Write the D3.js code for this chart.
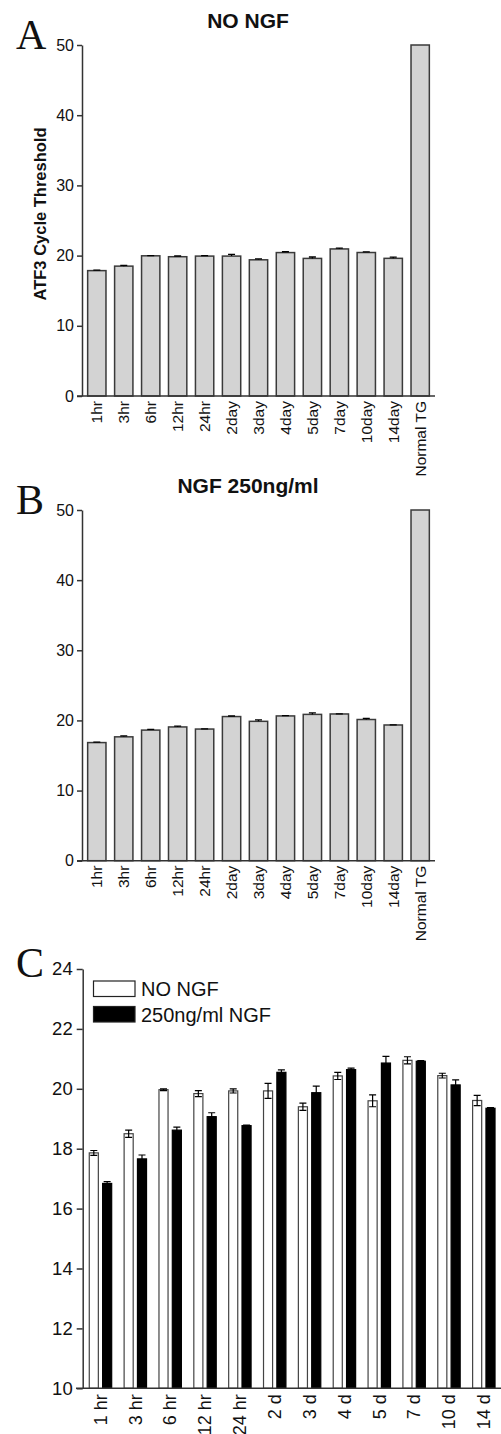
<!doctype html>
<html lang="en">
<head>
<meta charset="utf-8">
<script src="https://d3js.org/d3.v7.min.js"></script>
<style>
body { margin: 0; background: #fff; font-family: "Liberation Sans", Arial, sans-serif; }
.axis path, .axis line { fill: none; stroke: #333; stroke-width: 1.5; }
.axis text { fill: #111; }
.letter { font-family: "Liberation Serif", "Times New Roman", serif; font-size: 42px; fill: #111; }
.title { font-weight: bold; font-size: 21px; text-anchor: middle; fill: #111; }
</style>
</head>
<body>
<script>
var times = ["1hr", "3hr", "6hr", "12hr", "24hr", "2day", "3day", "4day", "5day", "7day", "10day", "14day"];
var timesC = ["1 hr", "3 hr", "6 hr", "12 hr", "24 hr", "2 d", "3 d", "4 d", "5 d", "7 d", "10 d", "14 d"];
var normalLabel = "Normal TG";
var normalTG = 50;

var noNgf    = [17.86, 18.50, 19.97, 19.84, 19.93, 19.93, 19.40, 20.43, 19.60, 20.95, 20.44, 19.61];
var noNgfErr = [0.08, 0.12, 0.03, 0.10, 0.07, 0.25, 0.12, 0.12, 0.20, 0.12, 0.08, 0.17];
var ngf      = [16.84, 17.66, 18.62, 19.07, 18.77, 20.55, 19.87, 20.64, 20.86, 20.92, 20.13, 19.35];
var ngfErr   = [0.06, 0.13, 0.10, 0.13, 0.02, 0.08, 0.22, 0.05, 0.22, 0.02, 0.17, 0.02];

var ticksAB = [0, 10, 20, 30, 40, 50];
var ticksC = [10, 12, 14, 16, 18, 20, 22, 24];

var svg = d3.select("body").append("svg")
    .attr("width", 501)
    .attr("height", 1434);

// panels A and B share the same layout
function singlePanel(top, bottom, title, letter, values, errs, showYTitle) {
  var data = values.map(function(v, i) { return {label: times[i], value: v, err: errs[i]}; });
  data.push({label: normalLabel, value: normalTG, err: 0});

  var x = d3.scaleBand().domain(data.map(function(d) { return d.label; }))
      .range([82, 435]).paddingInner(0.32).paddingOuter(0.21);
  var y = d3.scaleLinear().domain([0, 50]).range([bottom, top]);

  var g = svg.append("g");

  g.selectAll(".bar").data(data).enter().append("rect")
      .attr("x", function(d) { return x(d.label); })
      .attr("y", function(d) { return y(d.value); })
      .attr("width", x.bandwidth())
      .attr("height", function(d) { return y(0) - y(d.value); })
      .style("fill", "#d3d3d3")
      .style("stroke", "#3a3a3a")
      .style("stroke-width", 1.5);

  var eb = data.filter(function(d) { return d.err > 0; });
  g.selectAll(".err").data(eb).enter().append("path")
      .attr("d", function(d) {
        var cx = x(d.label) + x.bandwidth() / 2;
        var y1 = y(d.value + d.err);
        return "M" + cx + "," + y(d.value) + "V" + y1 + "M" + (cx - 3.5) + "," + y1 + "H" + (cx + 3.5);
      })
      .style("stroke", "#000").style("stroke-width", 1.3).style("fill", "none");

  g.append("g").attr("class", "axis")
      .attr("transform", "translate(82,0)")
      .call(d3.axisLeft(y).tickValues(ticksAB).tickSize(5).tickPadding(3).tickSizeOuter(0))
      .selectAll("text").style("font-size", "16px");

  g.append("line").attr("class", "axis")
      .attr("x1", 77).attr("x2", 435).attr("y1", y(0)).attr("y2", y(0))
      .style("stroke", "#333").style("stroke-width", 1.5);

  g.selectAll(".xl").data(data).enter().append("text")
      .attr("transform", function(d) {
        return "translate(" + (x(d.label) + x.bandwidth() / 2) + "," + (y(0) + 5) + ") rotate(-90)";
      })
      .attr("dy", "0.35em")
      .style("text-anchor", "end")
      .style("font-size", "15.5px")
      .style("fill", "#111")
      .text(function(d) { return d.label; });

  g.append("text").attr("class", "title").attr("x", 248).attr("y", top - 17).text(title);
  g.append("text").attr("class", "letter").attr("x", 16).attr("y", top + 4).text(letter);

  if (showYTitle) {
    g.append("text")
        .attr("transform", "translate(40,214) rotate(-90)")
        .attr("dy", "0.35em")
        .style("text-anchor", "middle")
        .style("font-weight", "bold")
        .style("font-size", "16.5px")
        .style("fill", "#111")
        .text("ATF3 Cycle Threshold");
  }
}

singlePanel(45, 396, "NO NGF", "A", noNgf, noNgfErr, true);
singlePanel(510, 860.7, "NGF 250ng/ml", "B", ngf, ngfErr, false);

// panel C: grouped comparison
var series = [
  {key: "no", name: "NO NGF", values: noNgf, errs: noNgfErr, fill: "#fff"},
  {key: "ngf", name: "250ng/ml NGF", values: ngf, errs: ngfErr, fill: "#000"}
];

var x0 = d3.scaleBand().domain(timesC).range([83, 501.3]).paddingInner(0.357).paddingOuter(0.18);
var x1 = d3.scaleBand().domain(series.map(function(s) { return s.key; }))
    .range([0, x0.bandwidth()]).paddingInner(0.32);
var yC = d3.scaleLinear().domain([10, 24]).range([1388.3, 969]);

var gc = svg.append("g");

series.forEach(function(s) {
  var rows = s.values.map(function(v, i) { return {t: timesC[i], v: v, e: s.errs[i]}; });
  gc.selectAll(".b" + s.key).data(rows).enter().append("rect")
      .attr("x", function(d) { return x0(d.t) + x1(s.key); })
      .attr("y", function(d) { return yC(d.v); })
      .attr("width", x1.bandwidth())
      .attr("height", function(d) { return yC(10) - yC(d.v); })
      .style("fill", s.fill)
      .style("stroke", s.key == "no" ? "#444" : "#000")
      .style("stroke-width", 1.2);

  gc.selectAll(".e" + s.key).data(rows).enter().append("path")
      .attr("d", function(d) {
        var cx = x0(d.t) + x1(s.key) + x1.bandwidth() / 2;
        var ya = yC(d.v + d.e), yb = yC(d.v - d.e);
        return "M" + cx + "," + yb + "V" + ya +
          "M" + (cx - 3.5) + "," + ya + "H" + (cx + 3.5) +
          "M" + (cx - 3.5) + "," + yb + "H" + (cx + 3.5);
      })
      .style("stroke", "#000").style("stroke-width", 1.2).style("fill", "none");
});

gc.append("g").attr("class", "axis")
    .attr("transform", "translate(82.7,0)")
    .call(d3.axisLeft(yC).tickValues(ticksC).tickSize(6).tickPadding(4).tickSizeOuter(0))
    .selectAll("text").style("font-size", "18.5px");

gc.append("line")
    .attr("x1", 76).attr("x2", 501).attr("y1", yC(10)).attr("y2", yC(10))
    .style("stroke", "#333").style("stroke-width", 1.5);

gc.selectAll(".xc").data(timesC).enter().append("text")
    .attr("transform", function(d) {
      return "translate(" + (x0(d) + x0.bandwidth() / 2) + "," + (yC(10) + 6) + ") rotate(-90)";
    })
    .attr("dy", "0.35em")
    .style("text-anchor", "end")
    .style("font-size", "18px")
    .style("fill", "#111")
    .text(function(d) { return d; });

// legend
series.forEach(function(s, i) {
  gc.append("rect")
      .attr("x", 93.5).attr("y", 981 + i * 25.5)
      .attr("width", 41.5).attr("height", 15.5)
      .style("fill", s.fill).style("stroke", "#222").style("stroke-width", 1.2);
  gc.append("text")
      .attr("x", 141).attr("y", 995.5 + i * 26)
      .style("font-size", "20px")
      .style("fill", "#111")
      .text(s.name);
});

gc.append("text").attr("class", "letter").attr("x", 16).attr("y", 977).text("C");
</script>
</body>
</html>
